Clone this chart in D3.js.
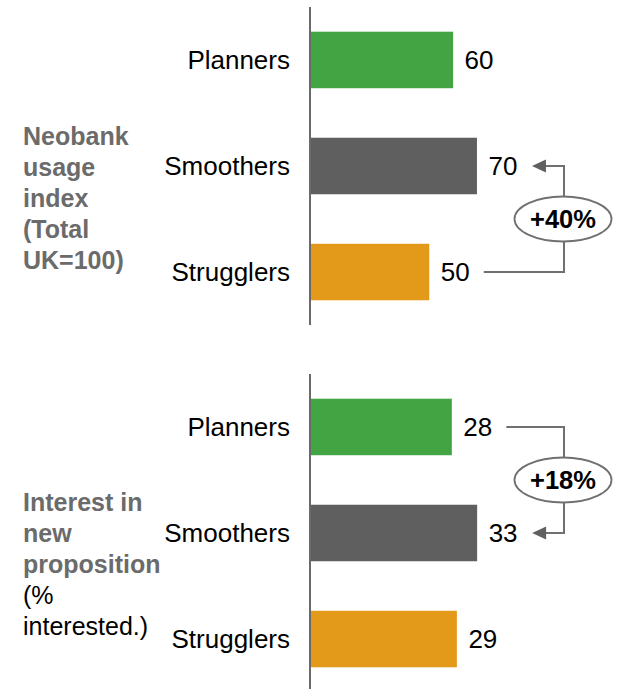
<!DOCTYPE html>
<html>
<head>
<meta charset="utf-8">
<script src="https://cdn.jsdelivr.net/npm/d3@7"></script>
<style>
  html, body { margin: 0; padding: 0; background: #fff; }
  svg { display: block; font-family: "Liberation Sans", Arial, sans-serif; }
</style>
</head>
<body>
<svg id="chart" width="619" height="689"></svg>
<script>
// Segments shown in both panels
const segments = ["Planners", "Smoothers", "Strugglers"];
// Neobank usage index (Total UK = 100)
const usageIndex = [60, 70, 50];
// Share interested in the new proposition (%)
const interestPct = [28, 33, 29];

const segmentColors = ["#43a443", "#5f5f5f", "#e39a1a"];

const svg = d3.select("#chart");
const axisX = 310;
const labelFont = 26;

function drawPanel(cfg) {
  const g = svg.append("g");
  const y = d3.scaleBand().domain(segments).range(cfg.yRange)
    .paddingInner(0.467).paddingOuter(0.233);
  const x = d3.scaleLinear().domain(cfg.domain).range([axisX, axisX + cfg.width]);

  const rows = segments.map((s, i) => ({ seg: s, v: cfg.values[i], c: segmentColors[i] }));

  g.selectAll("rect.bar").data(rows).join("rect")
    .attr("class", "bar")
    .attr("x", x(0))
    .attr("y", d => y(d.seg))
    .attr("width", d => x(d.v) - x(0))
    .attr("height", y.bandwidth())
    .attr("fill", d => d.c);

  // vertical baseline
  g.append("line")
    .attr("x1", axisX).attr("x2", axisX)
    .attr("y1", cfg.yRange[0]).attr("y2", cfg.yRange[1])
    .attr("stroke", "#6a6a6a").attr("stroke-width", 2);

  // segment names
  g.selectAll("text.cat").data(rows).join("text")
    .attr("class", "cat")
    .attr("x", 290)
    .attr("y", d => y(d.seg) + y.bandwidth() / 2)
    .attr("dy", "0.36em")
    .attr("text-anchor", "end")
    .attr("font-size", labelFont)
    .attr("fill", "#000")
    .text(d => d.seg);

  // value labels
  g.selectAll("text.val").data(rows).join("text")
    .attr("class", "val")
    .attr("x", d => x(d.v) + 11.5)
    .attr("y", d => y(d.seg) + y.bandwidth() / 2)
    .attr("dy", "0.36em")
    .attr("font-size", labelFont)
    .attr("fill", "#000")
    .text(d => d.v);

  // comparison connector: from one segment's value to another's
  const from = rows[cfg.fromIdx], to = rows[cfg.toIdx];
  const yFrom = y(from.seg) + y.bandwidth() / 2;
  const yTo = y(to.seg) + y.bandwidth() / 2;
  const vx = 564;
  const tipX = x(to.v) + 55;
  const startX = x(from.v) + 54.5;
  g.append("path")
    .attr("d", `M${startX},${yFrom} H${vx} V${yTo} H${tipX + 12}`)
    .attr("fill", "none").attr("stroke", "#707070").attr("stroke-width", 2);
  g.append("path")
    .attr("d", `M${tipX},${yTo} L${tipX + 14},${yTo - 6.5} L${tipX + 14},${yTo + 6.5} Z`)
    .attr("fill", "#606060");

  const cy = (yFrom + yTo) / 2;
  g.append("ellipse")
    .attr("cx", 563).attr("cy", cy).attr("rx", 48.5).attr("ry", 22.5)
    .attr("fill", "#fff").attr("stroke", "#707070").attr("stroke-width", 1.8);
  const pct = Math.round((to.v / from.v - 1) * 100);
  g.append("text")
    .attr("x", 563).attr("y", cy).attr("dy", "0.36em")
    .attr("text-anchor", "middle")
    .attr("font-size", 25.5).attr("font-weight", "bold").attr("fill", "#000")
    .text((pct >= 0 ? "+" : "") + pct + "%");

  // panel title, one line per row
  const t = g.append("text").attr("font-size", 25);
  cfg.title.forEach((ln, i) => {
    t.append("tspan")
      .attr("x", 23)
      .attr("y", cfg.titleY + i * 31)
      .attr("font-weight", ln.bold ? "bold" : "normal")
      .attr("fill", ln.bold ? "#6b6b6b" : "#000")
      .text(ln.text);
  });
}

drawPanel({
  values: usageIndex,
  domain: [0, 100],
  width: 238.5,
  yRange: [7, 325],
  fromIdx: 2, toIdx: 1,
  titleY: 145,
  title: [
    { text: "Neobank", bold: true },
    { text: "usage", bold: true },
    { text: "index", bold: true },
    { text: "(Total", bold: true },
    { text: "UK=100)", bold: true }
  ]
});

drawPanel({
  values: interestPct,
  domain: [0, 40],
  width: 202.6,
  yRange: [374, 692],
  fromIdx: 0, toIdx: 1,
  titleY: 511,
  title: [
    { text: "Interest in", bold: true },
    { text: "new", bold: true },
    { text: "proposition", bold: true },
    { text: "(%", bold: false },
    { text: "interested.)", bold: false }
  ]
});
</script>
</body>
</html>
